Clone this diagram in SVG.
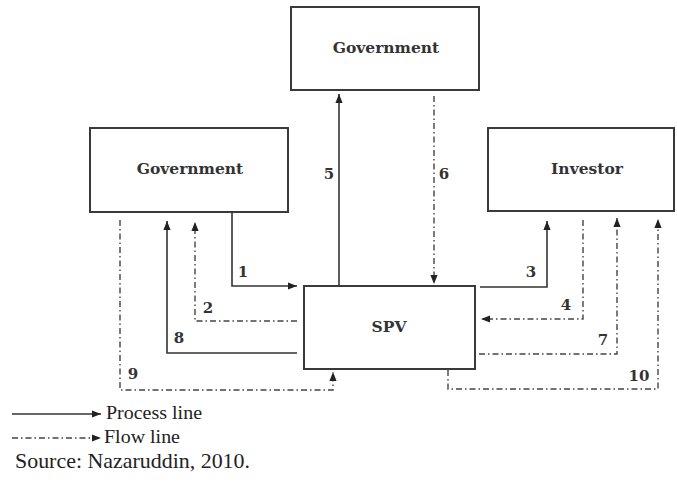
<svg xmlns="http://www.w3.org/2000/svg" width="677" height="483" viewBox="0 0 677 483">
<style>
.box{fill:#fff;stroke:#3a3a3a;stroke-width:2}
.lbl{font-family:"DejaVu Serif","Liberation Serif",serif;font-weight:bold;font-size:15.5px;fill:#333;text-anchor:middle}
.num{font-family:"DejaVu Serif","Liberation Serif",serif;font-weight:bold;font-size:15px;fill:#333;text-anchor:middle}
.proc{fill:none;stroke:#333;stroke-width:1.6}
.flow{fill:none;stroke:#444;stroke-width:1.4;stroke-dasharray:6,3,1.5,3}
.leg{font-family:"Liberation Serif",serif;font-size:18px;fill:#222}
</style>
<defs>
<marker id="ah" viewBox="0 0 10 10" refX="10" refY="5" markerWidth="9" markerHeight="9" markerUnits="userSpaceOnUse" orient="auto">
<path d="M0,1 L10,5 L0,9 Z" fill="#222"/>
</marker>
</defs>
<g id="gov-top"><rect class="box" x="291" y="7" width="188" height="83"/><text class="lbl" x="386" y="53">Government</text></g>
<g id="gov-left"><rect class="box" x="90" y="128" width="198" height="84"/><text class="lbl" x="190" y="174">Government</text></g>
<g id="investor"><rect class="box" x="488" y="128" width="186" height="83"/><text class="lbl" x="587" y="174">Investor</text></g>
<g id="spv"><rect class="box" x="304" y="286" width="171" height="83"/><text class="lbl" x="389" y="332">SPV</text></g>
<g id="connectors">
<path class="proc" d="M232,212 V286 H297" marker-end="url(#ah)"/>
<path class="flow" d="M297,321 H195 V222" marker-end="url(#ah)"/>
<path class="proc" d="M297,353 H167 V221" marker-end="url(#ah)"/>
<path class="flow" d="M120,220 V390 H333 V372" marker-end="url(#ah)"/>
<path class="proc" d="M339,286 V94" marker-end="url(#ah)"/>
<path class="flow" d="M434,96 V284" marker-end="url(#ah)"/>
<path class="proc" d="M480,287 H547 V221" marker-end="url(#ah)"/>
<path class="flow" d="M583,220 V319 H481" marker-end="url(#ah)"/>
<path class="flow" d="M479,354 H617 V218" marker-end="url(#ah)"/>
<path class="flow" d="M448,370 V389 H658 V219" marker-end="url(#ah)"/>
<text class="num" x="243" y="277">1</text>
<text class="num" x="208" y="313">2</text>
<text class="num" x="531" y="277">3</text>
<text class="num" x="566" y="310">4</text>
<text class="num" x="329" y="179">5</text>
<text class="num" x="444" y="179">6</text>
<text class="num" x="603" y="345">7</text>
<text class="num" x="179" y="343">8</text>
<text class="num" x="133" y="379">9</text>
<text class="num" x="639" y="381">10</text>
</g>
<g id="legend">
<path class="proc" d="M12,414 H101" marker-end="url(#ah)"/>
<text class="leg" x="106" y="419" textLength="96" lengthAdjust="spacingAndGlyphs">Process line</text>
<path class="flow" d="M12,438 H101" marker-end="url(#ah)"/>
<text class="leg" x="104" y="443" textLength="76" lengthAdjust="spacingAndGlyphs">Flow line</text>
<text class="leg" x="15" y="468" style="font-size:21px" textLength="235" lengthAdjust="spacingAndGlyphs">Source: Nazaruddin, 2010.</text>
</g>
</svg>
